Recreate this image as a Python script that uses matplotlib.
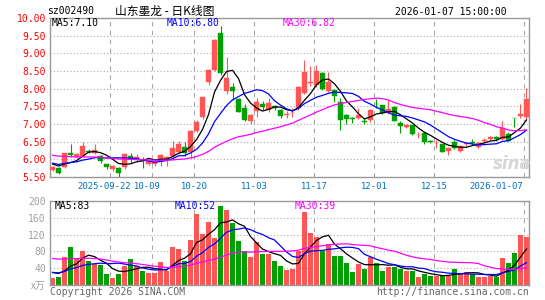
import numpy as np
import pandas as pd
import matplotlib
matplotlib.use('Agg')
import matplotlib.pyplot as plt

# trading days shown (09-08 .. 01-07, national day and new year closed)
dates = pd.bdate_range('2025-09-08', '2026-01-07')
holidays = pd.to_datetime(['2025-10-01', '2025-10-02', '2025-10-03', '2025-10-06',
                           '2025-10-07', '2025-10-08', '2026-01-01', '2026-01-02'])
dates = dates[~dates.isin(holidays)]

# daily K data
open_ = [5.71, 5.75, 5.79, 6.19, 6.08, 6.10, 6.25, 6.18, 6.10, 5.86,
         5.74, 5.76, 5.79, 6.10, 5.98, 5.98, 5.86, 5.88, 5.95, 5.98,
         6.09, 6.20, 6.34, 6.22, 6.80, 7.19, 8.20, 8.53, 9.57, 7.93,
         8.06, 7.71, 7.45, 7.09, 7.38, 7.57, 7.40, 7.51, 7.40, 7.26,
         7.30, 7.45, 7.89, 8.17, 8.10, 8.43, 7.92, 7.96, 7.61, 7.25,
         7.16, 7.16, 7.08, 7.10, 7.58, 7.54, 7.30, 7.49, 7.02, 6.92,
         6.96, 6.68, 6.74, 6.51, 6.45, 6.43, 6.25, 6.50, 6.25, 6.43,
         6.48, 6.36, 6.53, 6.57, 6.63, 6.57, 6.71, 7.17, 7.23, 7.21]
close = [5.77, 5.62, 6.17, 6.11, 6.14, 6.38, 6.21, 6.27, 5.94, 5.79,
         5.81, 5.60, 6.15, 6.02, 6.07, 5.95, 5.95, 5.92, 6.12, 6.08,
         6.31, 6.43, 6.19, 6.80, 7.06, 7.75, 8.53, 9.38, 8.45, 8.31,
         7.94, 7.35, 7.11, 7.25, 7.63, 7.49, 7.60, 7.44, 7.23, 7.27,
         7.32, 8.06, 8.48, 8.18, 8.51, 8.00, 8.20, 7.80, 7.11, 7.15,
         7.15, 7.25, 7.06, 7.40, 7.56, 7.30, 7.42, 7.09, 6.94, 6.97,
         6.72, 6.70, 6.50, 6.50, 6.47, 6.22, 6.31, 6.33, 6.38, 6.47,
         6.46, 6.47, 6.55, 6.64, 6.57, 6.88, 6.53, 7.16, 7.28, 7.71]
high = [5.80, 5.77, 6.18, 6.43, 6.17, 6.50, 6.28, 6.42, 6.13, 5.87,
        5.83, 5.78, 6.17, 6.17, 6.15, 6.07, 5.96, 5.94, 6.16, 6.10,
        6.53, 6.52, 6.49, 6.82, 7.12, 7.77, 8.55, 9.40, 9.77, 8.91,
        8.15, 7.75, 7.58, 7.27, 7.75, 7.66, 7.75, 7.55, 7.42, 7.36,
        7.44, 8.08, 8.81, 8.64, 8.66, 8.47, 8.48, 8.00, 7.73, 7.28,
        7.21, 7.44, 7.16, 7.42, 7.70, 7.55, 7.68, 7.50, 7.08, 7.00,
        6.97, 6.76, 6.76, 6.56, 6.55, 6.44, 6.35, 6.55, 6.40, 6.50,
        6.58, 6.50, 6.60, 6.66, 6.66, 7.08, 6.78, 7.17, 7.58, 8.01]
low = [5.68, 5.58, 5.76, 6.06, 6.04, 6.08, 6.17, 6.15, 5.89, 5.74,
       5.68, 5.50, 5.74, 5.89, 5.93, 5.76, 5.83, 5.80, 5.80, 5.80,
       6.07, 6.15, 6.09, 6.05, 6.77, 7.15, 8.10, 8.50, 8.40, 7.85,
       7.68, 7.33, 7.08, 6.99, 7.21, 7.40, 7.35, 7.40, 7.16, 7.16,
       7.21, 7.40, 7.85, 8.08, 8.06, 7.97, 7.90, 7.63, 6.83, 7.00,
       7.04, 7.14, 6.99, 7.05, 7.44, 7.28, 7.28, 7.08, 6.74, 6.88,
       6.70, 6.60, 6.43, 6.45, 6.33, 6.20, 6.11, 6.30, 6.22, 6.38,
       6.40, 6.32, 6.45, 6.56, 6.53, 6.55, 6.52, 6.92, 7.16, 7.11]
volume = [16, 18, 66, 90, 61, 82, 56, 49, 47, 26,
          17, 26, 45, 61, 45, 33, 28, 28, 54, 34,
          90, 85, 56, 106, 169, 122, 150, 112, 188, 178,
          147, 104, 82, 66, 102, 74, 74, 57, 46, 36,
          38, 80, 174, 124, 114, 82, 98, 69, 69, 53,
          32, 51, 38, 67, 53, 34, 43, 43, 38, 34,
          34, 19, 26, 22, 22, 22, 22, 38, 29, 32,
          26, 19, 19, 22, 19, 64, 53, 77, 120, 114]

# sessions before the window, estimated from where the MA lines start
prev_close = [6.30, 6.35, 6.40, 6.38, 6.32, 6.28, 6.30, 6.25, 6.22, 6.20,
              6.18, 6.22, 6.25, 6.20, 6.15, 6.18, 6.12, 6.10, 6.08, 6.05,
              5.95, 5.90, 5.88, 5.92, 5.90, 5.92, 5.88, 5.90, 5.88]
prev_volume = [55, 62, 58, 65, 60, 58, 62, 85, 95, 100,
               88, 92, 80, 96, 90, 85, 94, 88, 92, 85,
               28, 32, 30, 30, 30, 30, 35, 33, 35]

price_ma_text = ['MA5:7.10', 'MA10:6.80', 'MA30:6.82']
vol_ma_text = ['MA5:83', 'MA10:52', 'MA30:39']
tick_dates = ['2025-09-22', '2025-10-09', '2025-10-20', '2025-11-03',
              '2025-11-17', '2025-12-01', '2025-12-15', '2026-01-07']

RED = '#ff5555'
GREEN = '#00a000'
MA_COLORS = ['black', '#0000ff', '#ff00ff']
MONO = 'DejaVu Sans Mono'
CJK = ['Noto Sans CJK SC', 'DejaVu Sans']
W, H = 545, 300

x = np.arange(len(dates))
o = np.array(open_)
c = np.array(close)
up = c >= o
colors = np.where(up, RED, GREEN)

full_c = pd.Series(prev_close + close)
full_v = pd.Series(prev_volume + volume)
n0 = len(prev_close)

fig = plt.figure(figsize=(W / 100, H / 100), dpi=100)
ax = fig.add_axes([50 / W, 1 - 177 / H, 479 / W, 159 / H])
axv = fig.add_axes([50 / W, 1 - 285 / H, 479 / W, 84 / H])

tick_idx = [dates.get_loc(pd.Timestamp(d)) for d in tick_dates]
for a in (ax, axv):
    a.set_xlim(-0.42, len(x) - 0.58)
    for s in a.spines.values():
        s.set_color('#999999')
        s.set_linewidth(1.0)
    a.set_xticks([])
    for t in tick_idx:
        a.axvline(t - 0.4, color='#a8a8a8', lw=0.8, ls=(0, (4, 4)), zorder=0)
    a.tick_params(axis='y', length=0, pad=3)

# price panel
ax.set_ylim(5.5, 10.0)
levels = np.arange(5.5, 10.01, 0.5)
ax.set_yticks(levels)
ax.set_yticklabels(['%.2f' % v for v in levels], color='#ff0000',
                   family=MONO, fontsize=7)
for v in levels[1:-1]:
    ax.axhline(v, color='#aaaaaa', lw=0.8, ls=(0, (1, 2)), zorder=0)

ax.vlines(x, low, high, colors=colors, lw=0.8, zorder=2)
body_h = np.maximum(np.abs(c - o), 0.015)
ax.bar(x, body_h, bottom=np.minimum(o, c), width=0.78, color=colors,
       edgecolor=colors, linewidth=0.3, zorder=3)

for n, col in zip([5, 10, 30], MA_COLORS):
    ma = full_c.rolling(n).mean().to_numpy()[n0:]
    ax.plot(x, ma, color=col, lw=0.9, zorder=4)

# volume panel
axv.set_ylim(0, 200)
axv.set_yticks([0, 40, 80, 120, 160, 200])
axv.set_yticklabels(['x万', '40', '80', '120', '160', '200'],
                    color='#a0a0a0', fontsize=7)
for lab in axv.get_yticklabels():
    lab.set_family(CJK if '万' in lab.get_text() else [MONO])
for v in [40, 80, 120, 160]:
    axv.axhline(v, color='#aaaaaa', lw=0.8, ls=(0, (1, 2)), zorder=0)
axv.bar(x, volume, width=0.78, color=colors, linewidth=0, zorder=2)
for n, col in zip([5, 10, 30], MA_COLORS):
    ma = full_v.rolling(n).mean().to_numpy()[n0:]
    axv.plot(x, ma, color=col, lw=0.9, zorder=4)

# date labels under the price panel
label_dx = [-6, -5, 0, 0, 0, 0, 0]
for k, t in enumerate(tick_idx):
    d = tick_dates[k]
    if k == len(tick_idx) - 1:
        ax.text(1.0 - 6 / 479, -0.06, d, transform=ax.transAxes, ha='right',
                va='center', color='#0070c0', family=MONO, fontsize=6.4)
        continue
    txt = d if k == 0 else d[5:]
    ax.text(t - 0.4 + label_dx[k] / 6, -0.06, txt,
            transform=ax.get_xaxis_transform(), ha='center', va='center',
            color='#0070c0', family=MONO, fontsize=6.4)


def ftext(px, py, s, **kw):
    fig.text(px / W, 1 - py / H, s, va='center', **kw)


ftext(47, 11, 'sz002490', family=MONO, fontsize=7)
ftext(115, 11, '山东墨龙 - 日K线图', family=CJK, fontsize=8.5)
ftext(507, 12, '2026-01-07 15:00:00', family=MONO, fontsize=7, ha='right')

for s, px, col in zip(price_ma_text, [52, 167, 283], MA_COLORS):
    ftext(px, 23.5, s, family=MONO, fontsize=7, color=col)
for s, px, col in zip(vol_ma_text, [55, 175, 295], MA_COLORS):
    ftext(px, 206, s, family=MONO, fontsize=7, color=col)

ftext(50, 292, 'Copyright 2026 SINA.COM', family=MONO, fontsize=7,
      color='#666666')
ftext(529, 292, 'http://finance.sina.com.cn', family=MONO, fontsize=7,
      color='#666666', ha='right')
ftext(512, 164, 'sina', fontsize=12, style='italic', weight='bold',
      color='#d6d6d6', ha='center', zorder=1)

fig.savefig('out.png', dpi=100)
